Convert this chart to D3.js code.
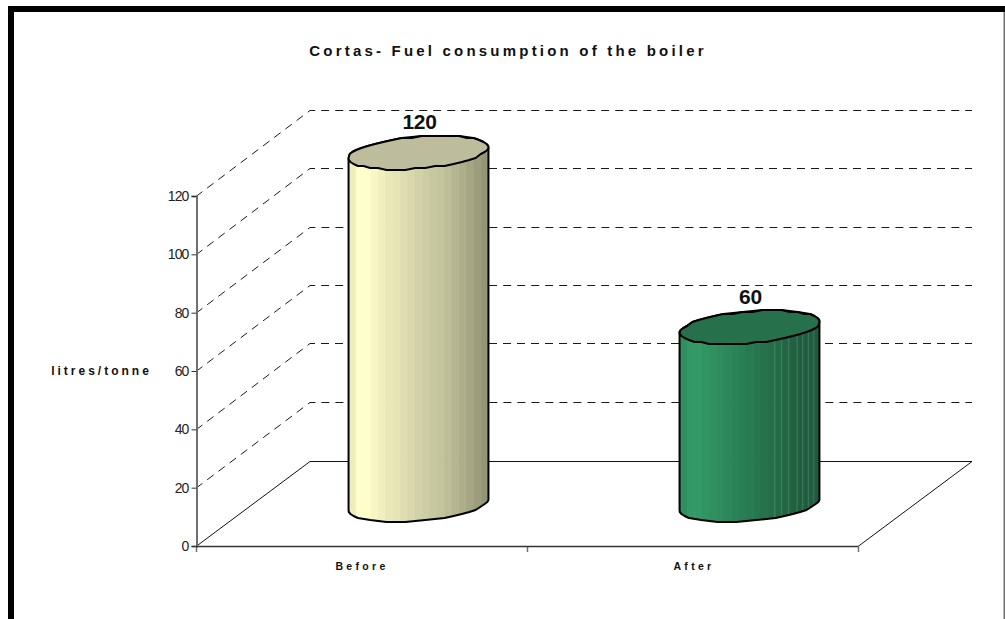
<!DOCTYPE html>
<html><head><meta charset="utf-8">
<script src="https://cdn.jsdelivr.net/npm/d3@7/dist/d3.min.js"></script>
<style>html,body{margin:0;padding:0;background:#fff}svg{display:block}text{font-family:"Liberation Sans",Arial,sans-serif}</style>
</head><body><div id="c"></div>
<script>
const categories=["Before","After"];
const values=[120,60];
const tickValues=[0,20,40,60,80,100,120];
const titleText="Cortas- Fuel consumption of the boiler";
const yAxisLabel="litres/tonne";
const sideColors=[["#eeeebb","#ffffcc","#ffffcc","#f7f7c6","#f0f0c0","#e8e8ba","#e4e4b6","#ddddb1","#d8d8ac","#d2d2a8","#cdcda4","#c8c8a0","#c3c39c","#bdbd97","#b5b591","#aeae8b","#a6a685","#9d9d7e","#949476"],
["#2f8f5f","#339966","#339966","#319563","#2f9060","#2e8c5d","#2c885a","#2b8358","#297f55","#287a51","#27764e","#26724c","#256e49","#246a47","#236644","#226242","#225f40","#215c3e","#20593c"]];
const topColors=["#bdbd9d","#26704c"];
const seamShare=[[],[.68,.73,.78,.84,.88,.92,.96]];

const W=1005,H=619;
const svg=d3.select("#c").append("svg").attr("width",W).attr("height",H);
const y=d3.scaleLinear().domain([0,120]).range([546,196]);
const x=d3.scaleBand().domain(categories).range([196,858]);
const depth={x:114,y:-85};

// frame
svg.append("rect").attr("x",11).attr("y",9).attr("width",1100).attr("height",800).attr("fill","#fff").attr("stroke","#000").attr("stroke-width",6);
svg.append("rect").attr("x",1004).attr("y",0).attr("width",1).attr("height",6).attr("fill","#fff");
svg.append("rect").attr("x",1003.5).attr("y",12).attr("width",1.5).attr("height",607).attr("fill","#707070");

svg.append("text").attr("x",508).attr("y",55.5).attr("text-anchor","middle").attr("font-size",15).attr("font-weight","bold").attr("letter-spacing",3.2).attr("fill","#111").text(titleText);

// walls: gridlines
const grid=svg.append("g");
tickValues.forEach(v=>{
  if(v===0)return;
  const by=Math.round(y(v)+depth.y)-.5;
  grid.append("path").attr("d",`M196,${y(v)+.5}L${196+depth.x},${by}L${858+depth.x},${by}`)
    .attr("fill","none").attr("stroke","#000").attr("stroke-width",.9).attr("stroke-dasharray","8,6");
});
// floor
const x0=196,x1=858,y0=y(0)+.5;
svg.append("path").attr("d",`M${x0},${y0}L${x0+depth.x},${y0+depth.y}L${x1+depth.x},${y0+depth.y}L${x1},${y0}`)
  .attr("fill","none").attr("stroke","#111").attr("stroke-width",1);

// y axis
const ya=svg.append("g").attr("transform","translate(196.5,0)").call(d3.axisLeft(y).tickValues(tickValues).tickSize(5).tickPadding(3));
ya.select(".domain").attr("stroke","#707070").attr("stroke-width",2);
ya.selectAll(".tick line").attr("stroke","#333");
ya.selectAll("text").attr("font-size",14).attr("letter-spacing",-.9).attr("fill","#222").style("font-family","'Liberation Sans'");
// x axis
const xa=svg.append("g").attr("transform",`translate(0,${y0-.5})`);
[x0,x(categories[1]),x1].forEach(px=>xa.append("line").attr("x1",px+.5).attr("x2",px+.5).attr("y1",0).attr("y2",6).attr("stroke","#707070").attr("stroke-width",1.5));
xa.append("line").attr("x1",x0).attr("x2",x1).attr("y1",.5).attr("y2",.5).attr("stroke","#333").attr("stroke-width",1.6);
categories.forEach(c=>{
  svg.append("text").attr("x",x(c)+x.bandwidth()/2+(c==="Before"?-1:0)+1.5).attr("y",570).attr("text-anchor","middle").attr("font-size",10.5).attr("font-weight","bold").attr("letter-spacing",3.3).attr("fill","#111").text(c);
});
svg.append("text").attr("x",101.5).attr("y",375).attr("text-anchor","middle").attr("font-size",12).attr("font-weight","bold").attr("letter-spacing",3).attr("fill","#111").text(yAxisLabel);

// cylinders
const defs=svg.append("defs");
const snap=(v,s)=>Math.round(v/s)*s;
function ring(cx,cy){
  const rx=x.bandwidth()*.2, vx=depth.x*.2, vy=depth.y*.2, pts=[];
  for(let i=0;i<44;i++){
    const t=i/44*2*Math.PI;
    pts.push([cx+rx*Math.cos(t)+vx*Math.sin(t), snap(cy+vy*Math.sin(t),2)]);
  }
  return pts;
}
const closed=d3.line().curve(d3.curveLinearClosed);
categories.forEach((c,i)=>{
  const cx=x(c)+x.bandwidth()/2+depth.x/2;
  const by=y(0)+depth.y/2+1;
  const ty=y(values[i])+depth.y/2-1;
  const top=ring(cx,ty), bot=ring(cx,by);
  const wid=Math.sqrt((x.bandwidth()*.2)**2+(depth.x*.2)**2);
  const l=cx-wid, r=cx+wid;
  const side=d3.polygonHull(top.concat(bot));
  const id="clip"+i;
  defs.append("clipPath").attr("id",id).append("path").attr("d",closed(side));
  const gs=svg.append("g").attr("clip-path",`url(#${id})`);
  const n=sideColors[i].length, sx=d3.scaleLinear().domain([0,n]).range([l,r]);
  gs.selectAll("rect").data(sideColors[i]).join("rect")
    .attr("x",(d,k)=>sx(k)).attr("width",(r-l)/n+.6).attr("y",ty-30).attr("height",by-ty+60).attr("fill",d=>d);
  gs.selectAll("line").data(seamShare[i]).join("line")
    .attr("x1",d=>l+(r-l)*d).attr("x2",d=>l+(r-l)*d).attr("y1",ty).attr("y2",by+30).attr("stroke","#5d9c7d").attr("stroke-width",.7).attr("opacity",.7);
  svg.append("path").attr("d",closed(side)).attr("fill","none").attr("stroke","#000").attr("stroke-width",2).attr("stroke-linejoin","round");
  svg.append("path").attr("d",closed(top)).attr("fill",topColors[i]).attr("stroke","#000").attr("stroke-width",2).attr("stroke-linejoin","round");
  svg.append("text").attr("x",cx+1).attr("y",ty-23.5).attr("text-anchor","middle").attr("font-size",21).attr("font-weight","bold").attr("fill","#111").attr("letter-spacing",-.3).text(values[i]);
});
</script></body></html>
